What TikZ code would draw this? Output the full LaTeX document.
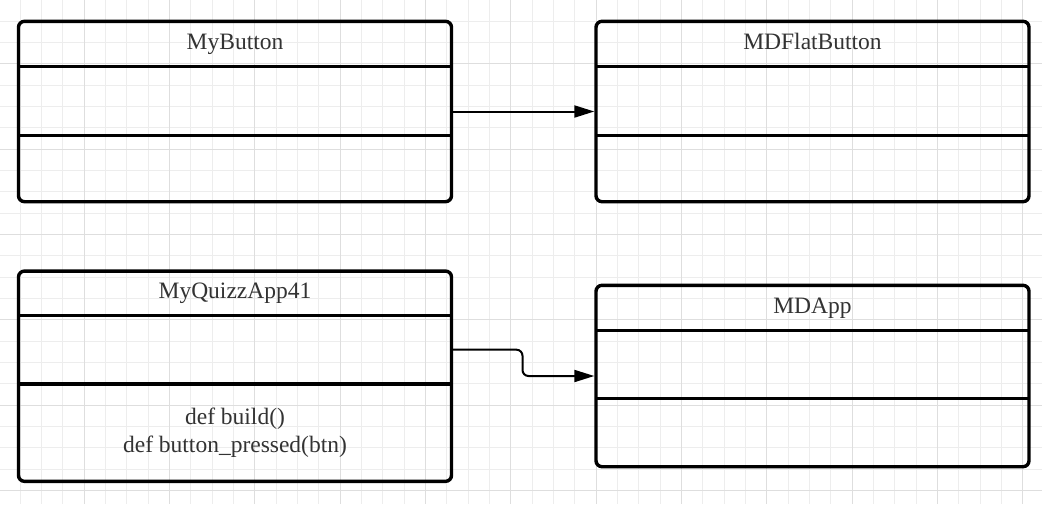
\documentclass[tikz,border=0pt]{standalone}
\usepackage{fontspec}
\setmainfont{Liberation Serif}
\usetikzlibrary{positioning,fit,arrows.meta}

\begin{document}
\begin{tikzpicture}[x=0.5pt, y=-0.5pt,
  gridminor/.style={draw=black!7, line width=0.5pt},
  gridmajor/.style={draw=black!13, line width=0.5pt},
  part/.style={minimum width=216.5pt, inner sep=0pt, outer sep=0pt, text=black!80, font=\fontsize{11.75}{14}\selectfont, align=center},
  title/.style={part, text height=8.5pt, text depth=3pt},
  frame/.style={draw=black, line width=1.7pt, rounded corners=3pt, inner sep=0pt},
  divider/.style={draw=black, line width=1.6pt},
  assoc/.style={draw=black, line width=1pt, -{Triangle[length=10pt, width=6pt]}, rounded corners=3pt}]
\useasboundingbox (0,0) rectangle (1042,504);
\fill[white] (0,0) rectangle (1042,504);
% grid
\foreach \k in {0,...,49} \draw[gridminor] ({-1.33+21.333*\k},0) -- ++(0,504);
\foreach \k in {0,...,23} \draw[gridminor] (0,{-0.33+21.333*\k}) -- ++(1042,0);
\foreach \k in {0,4,...,48} \draw[gridmajor] ({-1.33+21.333*\k},0) -- ++(0,504);
\foreach \k in {3,7,...,23} \draw[gridmajor] (0,{-0.33+21.333*\k}) -- ++(1042,0);
% MyButton
\node[title, minimum height=22.5pt] (mybutton-title) at (235,43.8) {MyButton};
\node[part, minimum height=34.5pt, below=0pt of mybutton-title] (mybutton-attr) {};
\node[part, minimum height=33.2pt, below=0pt of mybutton-attr] (mybutton-ops) {};
\node[frame, fit=(mybutton-title)(mybutton-ops)] (mybutton) {};
\draw[divider] (mybutton-title.south west) -- (mybutton-title.south east);
\draw[divider] (mybutton-attr.south west) -- (mybutton-attr.south east);
% MDFlatButton
\node[title, minimum height=22.5pt] (mdflat-title) at (812.5,43.8) {MDFlatButton};
\node[part, minimum height=34.5pt, below=0pt of mdflat-title] (mdflat-attr) {};
\node[part, minimum height=33.2pt, below=0pt of mdflat-attr] (mdflat-ops) {};
\node[frame, fit=(mdflat-title)(mdflat-ops)] (mdflat) {};
\draw[divider] (mdflat-title.south west) -- (mdflat-title.south east);
\draw[divider] (mdflat-attr.south west) -- (mdflat-attr.south east);
% MyQuizzApp41
\node[title, minimum height=22.15pt] (quizz-title) at (235,293.2) {MyQuizzApp41};
\node[part, minimum height=34.35pt, below=0pt of quizz-title] (quizz-attr) {};
\node[part, minimum height=48.65pt, below=0pt of quizz-attr] (quizz-ops) {def build()\\def button\_pressed(btn)};
\node[frame, fit=(quizz-title)(quizz-ops)] (quizz) {};
\draw[divider] (quizz-title.south west) -- (quizz-title.south east);
\draw[divider] (quizz-attr.south west) -- (quizz-attr.south east);
% MDApp
\node[title, minimum height=22.5pt] (mdapp-title) at (812.5,307.8) {MDApp};
\node[part, minimum height=34.25pt, below=0pt of mdapp-title] (mdapp-attr) {};
\node[part, minimum height=33.95pt, below=0pt of mdapp-attr] (mdapp-ops) {};
\node[frame, fit=(mdapp-title)(mdapp-ops)] (mdapp) {};
\draw[divider] (mdapp-title.south west) -- (mdapp-title.south east);
\draw[divider] (mdapp-attr.south west) -- (mdapp-attr.south east);
% connectors
\draw[assoc] (mybutton.east) -- (mdflat.west);
\draw[assoc] (quizz-attr.east) -- ++(71,0) |- (mdapp.west);
\end{tikzpicture}
\end{document}
